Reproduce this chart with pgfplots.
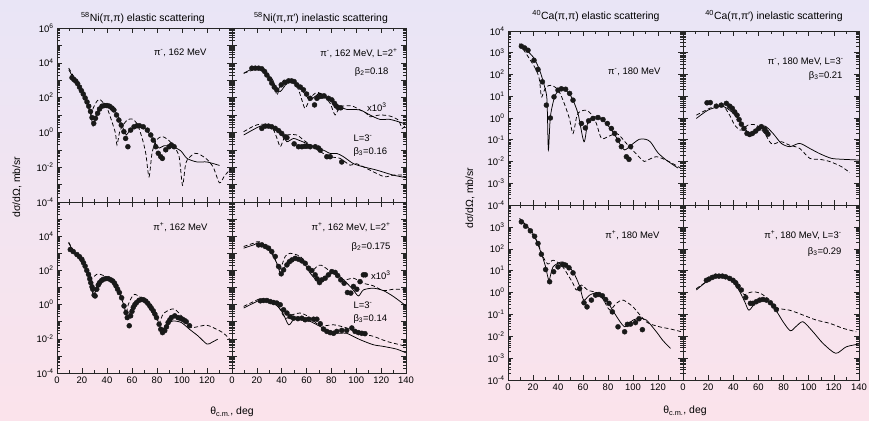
\documentclass[border=0pt]{standalone}
\usepackage{pgfplots}
\pgfplotsset{compat=1.18}
\usepackage{fontspec}
\setmainfont{Liberation Sans}
\definecolor{bgtop}{RGB}{233,229,246}
\definecolor{bgbot}{RGB}{251,227,235}
\newcommand\ann{\fontsize{9.5}{11}\selectfont}
\newcommand\ttl{\fontsize{10.5}{12}\selectfont}
\newcommand\ep[1]{10\textsuperscript{#1}}
\pgfplotsset{
  mypanel/.style={scale only axis, anchor=south west, xmin=0, xmax=140,
    xtick={0,20,...,140}, minor x tick num=1,
    axis line style={black!85, line width=0.7pt},
    every tick/.style={black!85, line width=0.5pt},
    major tick length=5bp, minor tick length=2.8bp,
    tick align=inside, xtick pos=both, ytick pos=both,
    xticklabels={}, yticklabels={},
    tick label style={font=\ann},
    clip=true},
  myleft/.style={ymin=1e-4, ymax=1e6, ytick={1e-4,1e-3,1e-2,1e-1,1,10,100,1e3,1e4,1e5,1e6}},
  myright/.style={ymin=1e-4, ymax=1e4, ytick={1e-4,1e-3,1e-2,1e-1,1,10,100,1e3,1e4}},
  mydots/.style={only marks, mark=*, mark size=2.5bp, color=black!90, mark options={fill=black!90}},
  mysol/.style={no marks, black, line width=0.75bp, smooth, tension=0.45},
  mydsh/.style={no marks, black, line width=0.75bp, smooth, tension=0.45, dash pattern=on 4bp off 2.5bp},
}
\begin{document}
\begin{tikzpicture}
\shade[top color=bgtop, bottom color=bgbot] (0bp,0bp) rectangle (869bp,421bp);

% ---------- Panel 1: Ni pi- elastic
\begin{axis}[ymode=log, mypanel, myleft, at={(57bp,219bp)}, width=175bp, height=174bp,
  yticklabels={\ep{-4},,\ep{-2},,\ep{0},,\ep{2},,\ep{4},,\ep{6}}]
\addplot[mydots] coordinates {(12,1.4e3)(13.5,1.1e3)(15,8.9e2)(16.5,6.3e2)(18,4.0e2)(19.5,2.5e2)(21,1.6e2)(22.5,9.5e1)(24,5.6e1)(25.4,3.2e1)(26.8,1.6e1)(28,7.1)(29.4,3.3)(30.8,6.5)(32.5,1.26e1)(34,2.2e1)(36,3.2e1)(38,3.5e1)(40,3.5e1)(42,3.2e1)(44,2.5e1)(45.5,1.95e1)(47.6,1.0e1)(49.5,5.1)(51.4,2.6)(53.5,1.1)(54.9,4.5e-1)(56.7,1.5e-1)(58.9,1.35)(61.6,2.1)(64,2.4)(66,2.4)(69,2.1)(72.3,1.35)(75,7.1e-1)(77,3.6e-1)(79,1.5e-1)(81,6.3e-2)(83,4.0e-2)(84.3,3.2e-2)(87,1.0e-1)(89.7,1.5e-1)(91.5,1.9e-1)(93.7,1.5e-1)};
\addplot[mysol] coordinates {(9.4,4.0e3)(15,7.9e2)(20,2.0e2)(24,5.0e1)(26.8,1.26e1)(28.9,2.3)(31,7.9)(34.8,3.0e1)(40,4.3e1)(45,2.5e1)(50,5.6)(53.5,1.35)(55.5,7.1e-1)(58,1.26)(62,2.1)(67,2.3)(72,1.26)(77,4.0e-1)(80,1.6e-1)(82,1.26e-1)(85.6,1.7e-1)(92,1.6e-1)(99,8.7e-2)(104,3.2e-2)(112,2.0e-2)(120,2.0e-2)(130,1.26e-2)};
\addplot[mydsh] coordinates {(9.4,5.0e3)(15,1.0e3)(20,2.24e2)(24,5.9e1)(26.8,1.0e1)(29,2.5e1)(32,6.3e1)(34.8,7.4e1)(40,2.5e1)(44,4.0)(46.8,8.7e-1)(48,1.9e-1)(50,1.0)(52,2.1)(56,5.0)(60,5.9)(64,3.2)(68,5.0e-1)(71,6.3e-2)(73.6,2.8e-3)(76,6.3e-2)(79,3.2e-1)(83,5.6e-1)(86,5.2e-1)(90,3.2e-1)(93.7,1.5e-1)(97.7,4.0e-2)(100.4,9.1e-4)(102.5,1.0e-2)(104,2.5e-2)(110,6.3e-2)(115,5.0e-2)(120,2.8e-2)(125,1.0e-2)(130,1.26e-3)(134,3.2e-3)(139,7.9e-3)};
\end{axis}

% ---------- Panel 2: Ni pi- inelastic
\begin{axis}[ymode=log, mypanel, myleft, at={(232bp,219bp)}, width=174bp, height=174bp]
\addplot[mydots] coordinates {(16,4.9e3)(18.7,4.9e3)(21.4,4.9e3)(24,4.5e3)(26.2,3.2e3)(28,2.0e3)(30.2,1.2e3)(32,6.8e2)(34,4.0e2)(36,2.8e2)(39.6,5.4e2)(42.8,7.4e2)(45.5,9.1e2)(48,9.1e2)(50,8.3e2)(52.2,5.4e2)(55,4.0e2)(57.5,2.8e2)(60,1.6e2)(62.9,9.1e1)(66.4,3.8e1)(68.3,9.1e1)(70.4,1.15e2)(72.3,1.2e2)(74.1,1.26e2)(77.6,9.1e1)(80.3,7.4e1)(82.4,4.7e1)(83.8,3.3e1)(85.6,2.6e1)(87.5,2.6e1)};
\addplot[mysol] coordinates {(9.4,2.5e3)(17.4,4.9e3)(22.8,5.4e3)(30.8,1.3e3)(34.8,4.0e2)(38.8,2.24e2)(44.2,6.8e2)(48.2,8.3e2)(54.9,3.5e2)(60.2,1.15e2)(62.9,7.4e1)(68.3,1.4e2)(71,1.78e2)(79,7.4e1)(87,3.0e1)(92.3,2.1e1)(103,1.95e1)(111,1.0e1)(119,5.6)(127,5.6)(136.5,3.6)(140,3.0)};
\addplot[mydsh] coordinates {(9.4,2.5e3)(17.4,4.0e3)(21.4,5.6e3)(28,2.5e3)(33.5,8.3e2)(36,1.4e2)(38.5,4.0e2)(41.5,1.0e3)(44.2,1.0e3)(48.2,1.15e3)(53.5,2.8e2)(56.5,6.3e1)(58.9,2.4e1)(62.9,9.1e1)(66.9,1.78e2)(69.6,1.95e2)(75,1.0e2)(79,4.7e1)(83,1.0e1)(87,3.0e1)(96.4,3.3e1)(103,1.95e1)(108,1.26e1)(111,7.9)(119,1.0e1)(127,8.7)(133.8,5.1)(137,1.7)(140,3.0)};
\addplot[mydots] coordinates {(24,1.7)(26.8,2.3)(29.4,2.3)(32,2.1)(34.8,1.7)(37.5,1.26)(40,8.7e-1)(42.8,5.6e-1)(44.2,5.0e-1)(50,2.2e-1)(53.5,1.5e-1)(56.2,1.5e-1)(58.5,1.6e-1)(60.2,1.6e-1)(63,1.5e-1)(67,1.5e-1)(69.6,1.26e-1)(71,9.5e-2)(76.3,4.0e-2)(79,4.0e-2)(88.3,2.0e-2)};
\addplot[mysol] coordinates {(9.4,7.1e-1)(17.4,1.48)(22.8,2.3)(28.1,2.6)(34.8,1.7)(41.5,5.6e-1)(44.2,2.9e-1)(49.5,4.5e-1)(53.5,3.6e-1)(60.2,2.3e-1)(68.3,1.2e-1)(73.6,9.5e-2)(79,6.2e-2)(84.3,6.2e-2)(89.7,4.0e-2)(97.7,1.6e-2)(105.7,1.05e-2)(116.4,6.8e-3)(129.8,3.5e-3)(140,2.5e-3)};
\addplot[mydsh] coordinates {(9.4,1.1)(17.4,2.3)(22.8,3.0)(28,2.6)(33,1.58)(36,5.0e-1)(38.8,1.5e-1)(41.5,4.0e-1)(44.2,7.1e-1)(52.2,7.1e-1)(57.5,3.6e-1)(65.6,1.5e-1)(72,7.1e-2)(79,4.0e-2)(87,3.2e-2)(95,1.3e-2)(100,1.6e-2)(108,8.7e-3)(116,4.5e-3)(123,2.8e-3)(130,3.5e-3)(138,3.5e-3)};
\end{axis}

% ---------- Panel 3: Ni pi+ elastic
\begin{axis}[ymode=log, mypanel, myleft, at={(57bp,48bp)}, width=175bp, height=171bp,
  yticklabels={\ep{-4},,\ep{-2},,\ep{0},,\ep{2},,\ep{4},,},
  xticklabels={0,20,40,60,80,100,120,}]
\addplot[mydots] coordinates {(10.6,1.66e3)(13,1.26e3)(15.9,8.5e2)(18,6.3e2)(19.9,4.4e2)(21.2,2.8e2)(22.5,1.78e2)(23.8,1.0e2)(25.2,5.9e1)(26.2,3.2e1)(27,1.9e1)(28,1.1e1)(28.6,7.9)(29.7,3.6)(30.5,3.2)(31.8,7.9)(33,1.4e1)(34,1.9e1)(35.5,2.5e1)(37,3.0e1)(39,3.3e1)(41,3.3e1)(43,2.8e1)(44.6,2.4e1)(46,1.78e1)(47.2,1.23e1)(48.5,7.9)(49.9,5.0)(51.7,2.5)(53.6,8.3e-1)(55.2,3.4e-1)(56.2,1.74e-1)(57.8,5.8e-2)(58.9,2.2e-1)(60,4.0e-1)(61,6.8e-1)(62.3,1.0)(63.7,1.32)(65.6,1.78)(67.6,2.0)(69.3,1.9)(71,1.6)(72.6,1.2)(74.3,8.3e-1)(75.6,6.0e-1)(77,4.3e-1)(78.3,2.8e-1)(79.6,1.74e-1)(81.7,7.1e-2)(83,3.6e-2)(84.4,2.3e-2)(86.2,3.0e-2)(87.6,5.0e-2)(88.9,8.9e-2)(90.2,1.26e-1)(91.5,1.74e-1)(94.2,2.2e-1)(96.8,1.74e-1)(98.5,1.6e-1)(100.3,1.4e-1)(102,1.2e-1)(103.4,1.0e-1)(106,5.8e-2)};
\addplot[mysol] coordinates {(9.3,4.0e3)(15,7.9e2)(20,3.2e2)(23.9,9.1e1)(27,1.6e1)(29.2,3.2)(30.5,5.0)(32,1.26e1)(34.5,2.4e1)(39.8,3.3e1)(45,1.78e1)(50.4,4.0)(55.7,2.7e-1)(57,1.4e-1)(59,5.0e-1)(61,8.3e-1)(66.3,2.0)(72,1.26)(77,5.4e-1)(82.2,5.8e-2)(84,3.0e-2)(87.5,7.1e-2)(92.8,1.1e-1)(99.5,8.9e-2)(106,3.6e-2)(112.7,1.5e-2)(120,4.9e-3)(124,6.3e-3)(128.6,9.5e-3)};
\addplot[mydsh] coordinates {(9.3,4.5e3)(15,8.9e2)(20,2.8e2)(25.2,9.1e1)(27.8,3.7e1)(31.8,5.9e1)(34.5,5.9e1)(40,4.0e1)(45,1.9e1)(50.4,5.0)(53,1.58)(55,2.8e-1)(57,1.0)(59.7,2.6)(62.3,4.0)(69,2.0)(74.3,5.4e-1)(79.6,1.74e-1)(81.7,7.9e-2)(84.9,2.8e-1)(90.2,5.0e-1)(94.2,5.4e-1)(100,2.0e-1)(103.4,8.9e-2)(107.4,4.6e-2)(112,5.0e-2)(119.4,6.3e-2)(124.7,4.6e-2)(132.6,2.3e-2)(138,1.0e-2)};
\end{axis}

% ---------- Panel 4: Ni pi+ inelastic
\begin{axis}[ymode=log, mypanel, myleft, at={(232bp,48bp)}, width=174bp, height=171bp,
  xticklabels={0,20,40,60,80,100,120,140}]
\addplot[mydots] coordinates {(21.4,3.1e3)(24,3.1e3)(26.8,2.5e3)(29.4,2.0e3)(32,1.26e3)(34.8,6.5e2)(37.5,1.7e2)(39.6,6.3e1)(41.5,1.07e2)(44.2,2.1e2)(46.2,3.2e2)(48.2,4.1e2)(50.9,5.1e2)(53.5,4.5e2)(56.2,3.6e2)(58.9,2.6e2)(61.6,1.35e2)(64.2,9.8e1)(66.9,5.5e1)(68.5,3.2e1)(70.4,1.95e1)(72.3,2.8e1)(75,3.5e1)(77.6,5.5e1)(80.3,8.5e1)(83,7.6e1)(85,5.0e1)(87.5,2.8e1)(90.2,1.78e1)(92.9,5.1)(95.6,4.7)(97.7,1.15e1)(100.4,7.9)(103,2.2e1)(105.7,5.5e1)(107.3,5.5e1)};
\addplot[mysol] coordinates {(9.4,2.0e3)(17.4,3.1e3)(22.2,3.9e3)(30.8,1.26e3)(36.1,2.6e2)(39.3,6.3e1)(44.2,2.6e2)(49.5,5.1e2)(57.5,2.9e2)(62.9,6.9e1)(70.4,1.95e1)(76.3,4.4e1)(81.7,7.6e1)(88.3,3.5e1)(96.4,9.1)(101.7,3.2)(105.7,7.2)(113.7,9.1)(121.7,6.6)(129.8,3.0)(140,8.5e-1)};
\addplot[mydsh] coordinates {(9.4,2.5e3)(17.4,3.9e3)(22.2,4.8e3)(30.8,1.6e3)(35,4.0e2)(38.3,1.07e2)(42.8,6.5e2)(46.8,1.0e3)(54.9,6.5e2)(61.6,1.7e2)(65,1.0e2)(68.3,1.7e2)(72,2.0e2)(80,7.9e1)(89.7,2.8e1)(97.7,3.5e1)(105.7,1.78e1)(113.7,1.26e1)(121.7,6.6)(129.8,7.9)(138,7.9)};
\addplot[mydots] coordinates {(22.8,1.66)(25.4,1.74)(28.1,1.74)(30.8,1.5)(33.5,1.32)(36.1,1.23)(38.8,9.8e-1)(41.5,5.0e-1)(44.2,3.2e-1)(46.8,2.0e-1)(49.5,1.6e-1)(53,1.5e-1)(56.2,1.6e-1)(58.9,1.3e-1)(61.6,1.4e-1)(65.6,1.4e-1)(68.3,1.4e-1)(71,7.6e-2)(73.6,3.7e-2)(76.3,2.7e-2)(79,2.3e-2)(81.7,2.1e-2)(84.3,2.7e-2)(88.3,3.1e-2)(92.3,3.1e-2)(96.4,4.3e-2)(99,2.7e-2)(101.7,2.3e-2)(104.4,2.1e-2)(107,2.0e-2)};
\addplot[mysol] coordinates {(9.4,6.3e-1)(17.4,1.23)(24.1,1.9)(33.5,1.23)(40.2,4.0e-1)(45.5,6.6e-2)(49.5,1.3e-1)(54.9,1.6e-1)(62.9,1.05e-1)(71,5.2e-2)(79,2.7e-2)(87,2.1e-2)(92.3,2.1e-2)(103,8.9e-3)(113.7,4.5e-3)(121.7,3.6e-3)(132.4,2.5e-3)(140,1.5e-3)};
\addplot[mydsh] coordinates {(9.4,7.8e-1)(17.4,1.5)(24.1,2.2)(36.1,9.8e-1)(42.8,1.6e-1)(48.2,2.5e-1)(54.9,3.2e-1)(61.6,2.0e-1)(71,5.8e-2)(81.7,6.6e-2)(92.3,4.3e-2)(103,2.1e-2)(113.7,1.4e-2)(124.4,7.1e-3)(135,4.5e-3)(140,3.6e-3)};
\end{axis}

% ---------- Panel 5: Ca pi- elastic
\begin{axis}[ymode=log, mypanel, myright, at={(508bp,216bp)}, width=175bp, height=174bp,
  yticklabels={\ep{-4},\ep{-3},\ep{-2},\ep{-1},\ep{0},\ep{1},\ep{2},\ep{3},\ep{4}}]
\addplot[mydots] coordinates {(10.7,2.0e3)(13.3,1.66e3)(16,1.3e3)(20.8,4.5e2)(24,1.7e2)(27.5,4.6e1)(30.7,3.9)(33.9,1.0)(36.8,9.3)(40,1.9e1)(42.7,2.2e1)(46.1,2.1e1)(49.3,1.35e1)(52,6.6)(58.7,5.6e-1)(61.9,3.5e-1)(64.5,7.4e-1)(68,9.5e-1)(72,1.05)(76,8.5e-1)(79.5,5.6e-1)(82.7,3.3e-1)(85.3,1.95e-1)(88,9.5e-2)(90.7,4.8e-2)(94.7,1.66e-2)(96.8,1.26e-2)(98.1,4.8e-2)};
\addplot[mysol] coordinates {(9.3,2.6e3)(20,6.5e2)(25.3,1.58e2)(29.3,2.7e1)(31.2,6.6)(32.3,3.4e-2)(33.9,1.15)(37.3,9.3)(41.3,2.2e1)(44,2.5e1)(50.7,9.3)(56,1.6)(60.8,8.1e-2)(64,6.8e-1)(69.3,1.15)(76,7.9e-1)(84,2.3e-1)(89.3,6.8e-2)(93.3,3.4e-2)(98.7,5.8e-2)(105,1.05e-1)(110,1.05e-1)(114,7.9e-2)(120,2.5e-2)(127,1.12e-2)(136,5.0e-3)};
\addplot[mydsh] coordinates {(9.3,2.6e3)(21.3,2.2e2)(25,6.3e1)(26.7,9.3)(28.5,1.58e1)(30.7,2.7e1)(34.7,3.2e1)(40,2.0e1)(44,6.6)(49,1.0)(52,1.95e-1)(55.2,1.35)(58,2.0)(62.7,2.3)(67,1.41)(70.7,5.6e-1)(74.7,1.15e-1)(80,1.4e-1)(86.7,1.95e-1)(90,1.4e-1)(94.7,6.8e-2)(100,3.2e-2)(105,1.6e-2)(109,1.0e-2)(113,1.26e-2)(118.7,1.66e-2)(125,1.26e-2)(132,7.9e-3)(138,5.0e-3)};
\end{axis}

% ---------- Panel 6: Ca pi- inelastic
\begin{axis}[ymode=log, mypanel, myright, at={(683bp,216bp)}, width=176bp, height=174bp]
\addplot[mydots] coordinates {(19.1,5.0)(21.7,5.1)(26.5,3.5)(30.5,3.9)(34.5,4.7)(37.1,3.5)(39.2,2.8)(41.1,1.9)(43,1.35)(44.6,8.5e-1)(46.4,5.2e-1)(48.5,3.3e-1)(50.9,1.95e-1)(53,1.74e-1)(55.2,1.95e-1)(57.8,2.5e-1)(60.2,3.3e-1)(62.3,4.0e-1)(65,3.1e-1)(66.3,2.3e-1)(67.6,1.8e-1)};
\addplot[mysol] coordinates {(10.6,9.5e-1)(19.9,2.3)(30.5,3.5)(37.1,2.3)(43.8,9.5e-1)(49.1,3.3e-1)(53,1.95e-1)(58.3,2.8e-1)(65,4.3e-1)(71.6,1.95e-1)(78.2,6.8e-2)(84.9,4.8e-2)(92.8,6.8e-2)(100.8,4.0e-2)(108.7,2.3e-2)(118,1.4e-2)(127.3,1.26e-2)(140,1.17e-2)};
\addplot[mydsh] coordinates {(10.6,1.35)(21.2,2.8)(26.5,3.5)(32,3.6)(37.1,1.35)(41.1,4.7e-1)(45.1,2.8e-1)(47,2.8e-1)(51.7,4.7e-1)(58.3,4.7e-1)(65,1.95e-1)(68.9,8.1e-2)(71.6,6.3e-2)(78.2,8.1e-2)(84.9,5.6e-2)(92.8,4.0e-2)(100.8,1.4e-2)(108.7,1.26e-2)(116.7,1.0e-2)(126,5.8e-3)(132.6,3.1e-3)};
\end{axis}

% ---------- Panel 7: Ca pi+ elastic
\begin{axis}[ymode=log, mypanel, myright, at={(508bp,41bp)}, width=175bp, height=175bp,
  yticklabels={\ep{-4},\ep{-3},\ep{-2},\ep{-1},\ep{0},\ep{1},\ep{2},\ep{3},},
  xticklabels={0,20,40,60,80,100,120,}]
\addplot[mydots] coordinates {(10.7,1.7e3)(14.1,1.07e3)(17.9,6.6e2)(21.3,3.7e2)(24,1.74e2)(26.7,5.6e1)(30.1,1.12e1)(33.3,3.1)(36.5,8.9)(40,1.48e1)(43.5,1.9e1)(46.1,1.78e1)(48.8,1.35e1)(52,7.9)(57.3,1.5)(60.8,3.4e-1)(63.2,2.2e-1)(66.7,4.5e-1)(70.1,7.6e-1)(72.8,8.1e-1)(75.5,7.1e-1)(78.1,4.8e-1)(80.8,3.2e-1)(83.5,1.3e-1)(88,2.7e-2)(93.3,1.6e-2)(95.5,3.5e-2)(98,3.6e-2)(102,4.2e-2)(104.8,6.3e-2)(107.5,2.0e-2)};
\addplot[mysol] coordinates {(9.3,2.4e3)(20,5.0e2)(26.7,6.0e1)(30.1,1.48e1)(32.8,3.6)(36,1.48e1)(44,2.5e1)(52,8.9)(57.3,1.95)(60.5,4.5e-1)(65.3,7.6e-1)(72,9.8e-1)(78.7,4.5e-1)(85.3,1.1e-1)(93.3,2.7e-2)(100,5.5e-2)(105.3,6.5e-2)(110.7,5.5e-2)(118.7,1.6e-2)(124,6.3e-3)(130,2.8e-3)};
\addplot[mydsh] coordinates {(9.3,2.4e3)(22.7,2.5e2)(28,4.3e1)(32,2.0e1)(36,3.0e1)(42.7,1.78e1)(48,6.3)(52,2.6)(54.7,1.3)(58.7,2.2)(64,1.26)(70.7,1.0)(76,5.0e-1)(81.3,1.6e-1)(86.7,3.2e-1)(92,4.5e-1)(100,2.2e-1)(110.7,4.5e-2)(121.3,2.7e-2)(129.3,2.2e-2)(138.9,1.6e-2)};
\end{axis}

% ---------- Panel 8: Ca pi+ inelastic
\begin{axis}[ymode=log, mypanel, myright, at={(683bp,41bp)}, width=176bp, height=175bp,
  xticklabels={0,20,40,60,80,100,120,140}]
\addplot[mydots] coordinates {(18.6,3.6)(20.7,4.1)(23.3,4.9)(26,5.6)(28.6,5.6)(31.3,5.6)(33.9,5.2)(37.1,4.4)(39.8,3.6)(41.9,2.8)(43.8,1.95)(46.4,1.3)(49.9,5.9e-1)(53.6,3.2e-1)(55.7,3.2e-1)(58.3,3.8e-1)(61,4.5e-1)(63.6,4.8e-1)(66.3,4.5e-1)(69.5,3.4e-1)(72.1,2.4e-1)(74.2,1.66e-1)};
\addplot[mysol] coordinates {(10.6,1.3)(18.6,3.1)(26.5,5.6)(30.5,6.2)(37.1,4.4)(43.8,1.5)(49.1,3.8e-1)(52.5,1.55e-1)(58.3,3.8e-1)(65,4.8e-1)(72.9,1.86e-1)(79.6,4.6e-2)(85.4,1.78e-2)(90.2,2.9e-2)(95.5,4.6e-2)(103.4,1.6e-2)(111.4,4.7e-3)(121.5,1.66e-3)(129.9,3.3e-3)(140,4.4e-3)};
\addplot[mydsh] coordinates {(10.6,1.5)(18.6,3.1)(26.5,5.2)(30.5,6.2)(37.1,5.2)(42.4,2.2)(46,1.12)(49,7.9e-1)(53,1.0)(57,1.07)(62,8.9e-1)(68,5.0e-1)(74.2,2.0e-1)(84.9,1.55e-1)(95.5,9.3e-2)(106,5.5e-2)(116.7,3.9e-2)(127.3,2.3e-2)(137.9,1.6e-2)};
\end{axis}

% ---------- annotations
\begin{scope}[x=1bp,y=1bp]
\node[anchor=east,font=\ann] at (210,368) {π\textsuperscript{-}, 162 MeV};
\node[anchor=east,font=\ann] at (401,368) {π\textsuperscript{-}, 162 MeV, L=2\textsuperscript{+}};
\node[anchor=east,font=\ann] at (392,349) {β\textsubscript{2}=0.18};
\node[anchor=east,font=\ann] at (390,314) {x10\textsuperscript{3}};
\node[anchor=west,font=\ann] at (350,283) {L=3\textsuperscript{-}};
\node[anchor=west,font=\ann] at (350,269) {β\textsubscript{3}=0.16};
\node[anchor=east,font=\ann] at (211,194) {π\textsuperscript{+}, 162 MeV};
\node[anchor=east,font=\ann] at (394,194) {π\textsuperscript{+}, 162 MeV, L=2\textsuperscript{+}};
\node[anchor=east,font=\ann] at (394,174) {β\textsubscript{2}=0.175};
\node[anchor=east,font=\ann] at (394,146) {x10\textsuperscript{3}};
\node[anchor=west,font=\ann] at (350,116) {L=3\textsuperscript{-}};
\node[anchor=west,font=\ann] at (350,102) {β\textsubscript{3}=0.14};
\node[anchor=east,font=\ann] at (664,349) {π\textsuperscript{-}, 180 MeV};
\node[anchor=east,font=\ann] at (663,186) {π\textsuperscript{+}, 180 MeV};
\node[anchor=east,font=\ann] at (847,359) {π\textsuperscript{-}, 180 MeV, L=3\textsuperscript{-}};
\node[anchor=east,font=\ann] at (846,345) {β\textsubscript{3}=0.21};
\node[anchor=east,font=\ann] at (845,186) {π\textsuperscript{+}, 180 MeV, L=3\textsuperscript{-}};
\node[anchor=east,font=\ann] at (845,169) {β\textsubscript{3}=0.29};
% titles
\node[font=\ttl] at (143,403) {\textsuperscript{58}Ni(π,π) elastic scattering};
\node[font=\ttl] at (321,403) {\textsuperscript{58}Ni(π,π′) inelastic scattering};
\node[font=\ttl] at (596,405) {\textsuperscript{40}Ca(π,π) elastic scattering};
\node[font=\ttl] at (774,405) {\textsuperscript{40}Ca(π,π′) inelastic scattering};
% axis labels
\node[font=\ttl, rotate=90] at (17,234) {dσ/dΩ, mb/sr};
\node[font=\ttl, rotate=90] at (470,223) {dσ/dΩ, mb/sr};
\node[font=\ttl] at (232,9) {θ\textsubscript{c.m.}, deg};
\node[font=\ttl] at (685,10) {θ\textsubscript{c.m.}, deg};
\end{scope}
\pgfresetboundingbox
\useasboundingbox (0bp,0bp) rectangle (869bp,421bp);
\end{tikzpicture}
\end{document}
